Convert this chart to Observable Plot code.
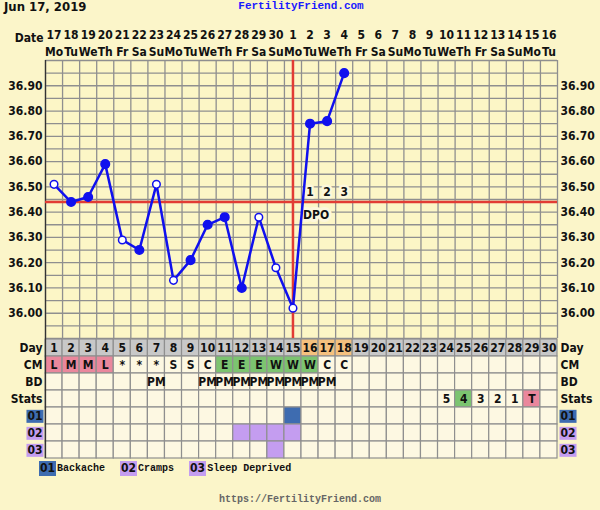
<!DOCTYPE html>
<html>
<head>
<meta charset="utf-8">
<script src="https://cdn.jsdelivr.net/npm/d3@7"></script>
<script src="https://cdn.jsdelivr.net/npm/@observablehq/plot@0.6"></script>
<style>
  html, body { margin: 0; padding: 0; background: #fbf5c9; }
  #chart { position: relative; width: 600px; height: 510px; overflow: hidden; background: #fbf5c9; }
  #chart svg { display: block; }
  .sans { font-family: "DejaVu Sans Condensed", "DejaVu Sans", sans-serif; font-stretch: condensed; font-weight: bold; }
  .mono { font-family: "Liberation Mono", "DejaVu Sans Mono", monospace; font-weight: bold; }
  #date { position: absolute; left: 4px; top: 0px; font-size: 13px; line-height: 14px; color: #111; }
  #site { position: absolute; left: 0; width: 602px; top: 0px; text-align: center; font-size: 11px; color: #1a1aff; }
  #legend { position: absolute; left: 39px; top: 461px; font-size: 10px; color: #111; display: flex; align-items: center; }
  #legend .box { font-family: "DejaVu Sans Condensed", "DejaVu Sans", sans-serif; font-stretch: condensed; font-size: 12px; padding: 0 1px; line-height: 15px; margin-right: 1px; }
  #legend .item { display: flex; align-items: center; }
  #footer { position: absolute; left: 0; width: 600px; top: 494px; text-align: center; font-size: 10px; color: #666; }
</style>
</head>
<body>
<div id="chart">
  <div id="date" class="sans">Jun 17, 2019</div>
  <div id="site" class="mono">FertilityFriend.com</div>
  <div id="legend" class="mono"></div>
  <div id="footer" class="mono">https://FertilityFriend.com</div>
</div>
<script>
// ---- Cycle data ----
const cycleDays = d3.range(1, 31);
const dateLabels = ["17","18","19","20","21","22","23","24","25","26","27","28","29","30",
                    "1","2","3","4","5","6","7","8","9","10","11","12","13","14","15","16"];
const weekdayLabels = ["Mo","Tu","We","Th","Fr","Sa","Su","Mo","Tu","We","Th","Fr","Sa","Su",
                       "Mo","Tu","We","Th","Fr","Sa","Su","Mo","Tu","We","Th","Fr","Sa","Su","Mo","Tu"];

// Basal body temperatures (°C), one per recorded cycle day
const tempDays = d3.range(1, 19);
const temps = [36.51, 36.44, 36.46, 36.59, 36.29, 36.25, 36.51, 36.13, 36.21,
               36.35, 36.38, 36.10, 36.38, 36.18, 36.02, 36.75, 36.76, 36.95];
// Readings drawn as hollow circles
const openDays = [1, 5, 7, 8, 13, 14, 15];

const coverline = 36.44;
const ovulationDay = 15;
const dpoDays = [16, 17, 18];
const dpoLabels = ["1", "2", "3"];
const tempTicks = [36.0, 36.1, 36.2, 36.3, 36.4, 36.5, 36.6, 36.7, 36.8, 36.9];

// Table rows
const rowNames = ["Day", "CM", "BD", "Stats", "01", "02", "03"];
const highlightDays = [16, 17, 18];
const cmValues = ["L","M","M","L","*","*","*","S","S","C","E","E","E","W","W","W","C","C"];
const bdDays = [7, 10, 11, 12, 13, 14, 15, 16, 17];
const statsDays = [24, 25, 26, 27, 28, 29];
const statsLabels = ["5", "4", "3", "2", "1", "T"];
const backacheDays = [15];
const crampsDays = [12, 13, 14, 15];
const sleepDays = [14];

// ---- Palette ----
const gridColor = "#8f8f8f";
const red = "#e23c34";
const blue = "#1010ee";
const pink = "#ea879c";
const green = "#7cc470";
const orange = "#f5c17e";
const gray = "#c8c8c8";
const cellBg = "#fdf8e2";
const symptomBlue = "#3e6cb0";
const symptomPurple = "#c49df0";

const fontStyle = {
  background: "transparent",
  fontFamily: "'DejaVu Sans Condensed', 'DejaVu Sans', sans-serif",
  fontStretch: "condensed",
  fontWeight: "bold",
  fontSize: "12px",
  color: "#111",
  overflow: "visible"
};

const temperatureData = tempDays.map((day, i) => ({day, temp: temps[i], open: openDays.includes(day)}));
const colEdges = d3.range(0, 31).map(i => i + 0.5);
const gridTemps = d3.range(0, 23).map(i => 35.9 + i * 0.05);

// ---- Temperature chart ----
const tempPlot = Plot.plot({
  width: 600,
  height: 338,
  marginTop: 60,
  marginBottom: 0,
  marginLeft: 45,
  marginRight: 43,
  style: fontStyle,
  x: {domain: [0.5, 30.5], axis: null},
  y: {domain: [35.9, 37.0], axis: "both", ticks: tempTicks, tickFormat: ".2f",
      tickSize: 0, tickPadding: 3, label: null},
  marks: [
    Plot.frame({fill: "#fcf6c6", stroke: null}),
    Plot.ruleX(colEdges, {stroke: gridColor, strokeWidth: 1.3}),
    Plot.ruleY(gridTemps, {stroke: gridColor, strokeWidth: 1.3}),
    Plot.ruleX([0.5], {stroke: "#333", strokeWidth: 1.3}),
    Plot.ruleY([coverline], {stroke: red, strokeWidth: 2.5}),
    Plot.ruleX([ovulationDay], {stroke: red, strokeWidth: 2.5}),
    // days past ovulation
    Plot.text(dpoDays, {x: d => d, y: 36.48, text: (d, i) => dpoLabels[i],
      stroke: "#fcf7dc", strokeWidth: 5, fill: "#111"}),
    Plot.text(["DPO"], {x: dpoDays[0], y: 36.39, textAnchor: "start", dx: -7,
      stroke: "#fcf7dc", strokeWidth: 6, fill: "#111"}),
    // temperature curve
    Plot.line(temperatureData, {x: "day", y: "temp", stroke: blue, strokeWidth: 2.5}),
    Plot.dot(temperatureData.filter(d => !d.open), {x: "day", y: "temp", r: 4.3, fill: blue, stroke: blue}),
    Plot.dot(temperatureData.filter(d => d.open), {x: "day", y: "temp", r: 3.8, fill: "white", stroke: blue, strokeWidth: 1.5}),
    // date header
    Plot.text(cycleDays, {x: d => d, text: d => dateLabels[d - 1], frameAnchor: "top", dy: -30}),
    Plot.text(cycleDays, {x: d => d, text: d => weekdayLabels[d - 1], frameAnchor: "top", dy: -13}),
    Plot.text(["Date"], {frameAnchor: "top-left", textAnchor: "end", dx: -2, dy: -27})
  ]
});

// ---- Observation table ----
const cells = [];
for (const row of rowNames) {
  for (const day of cycleDays) {
    let fill = cellBg;
    if (row === "Day") fill = highlightDays.includes(day) ? orange : gray;
    if (row === "CM") {
      const v = cmValues[day - 1];
      if (v === "L" || v === "M") fill = pink;
      if (v === "E" || v === "W") fill = green;
    }
    if (row === "Stats") {
      const v = statsLabels[statsDays.indexOf(day)];
      if (v === "4") fill = green;
      if (v === "T") fill = pink;
    }
    if (row === "01" && backacheDays.includes(day)) fill = symptomBlue;
    if (row === "02" && crampsDays.includes(day)) fill = symptomPurple;
    if (row === "03" && sleepDays.includes(day)) fill = symptomPurple;
    cells.push({row, day, fill});
  }
}

const tableTexts = [
  ...cycleDays.map(day => ({row: "Day", day, label: String(day)})),
  ...cmValues.map((v, i) => ({row: "CM", day: i + 1, label: v})),
  ...bdDays.map(day => ({row: "BD", day, label: "PM"})),
  ...statsDays.map((day, i) => ({row: "Stats", day, label: statsLabels[i]}))
];

const tablePlot = Plot.plot({
  width: 600,
  height: 120,
  marginTop: 0,
  marginBottom: 0,
  marginLeft: 45,
  marginRight: 43,
  style: fontStyle,
  x: {domain: [0.5, 30.5], axis: null},
  y: {domain: rowNames, padding: 0, axis: "both", tickSize: 0, tickPadding: 3, label: null},
  color: {type: "identity"},
  marks: [
    Plot.barX(cells, {x1: d => d.day - 0.5, x2: d => d.day + 0.5, y: "row",
      fill: "fill", stroke: gridColor, strokeWidth: 1.2}),
    Plot.ruleX([0.5], {stroke: "#333", strokeWidth: 1.3}),
    Plot.text(tableTexts, {x: "day", y: "row", text: "label", fill: "#111"})
  ]
});

const chart = document.getElementById("chart");
const legendEl = document.getElementById("legend");
chart.insertBefore(tempPlot, legendEl);
chart.insertBefore(tablePlot, legendEl);

// Coloured boxes behind the symptom row codes
const symptomColors = {"01": symptomBlue, "02": symptomPurple, "03": symptomPurple};
d3.select(tablePlot).selectAll("text")
  .filter(function() { return symptomColors[this.textContent] !== undefined; })
  .each(function() {
    const b = this.getBBox();
    const rect = document.createElementNS("http://www.w3.org/2000/svg", "rect");
    rect.setAttribute("x", b.x - 1);
    rect.setAttribute("y", b.y + 1);
    rect.setAttribute("width", b.width + 2);
    rect.setAttribute("height", b.height - 1);
    rect.setAttribute("fill", symptomColors[this.textContent]);
    const t = this.getAttribute("transform");
    if (t) rect.setAttribute("transform", t);
    this.parentNode.insertBefore(rect, this);
  });

// Legend for symptom codes
const legendItems = [
  {code: "01", name: "Backache", color: symptomBlue},
  {code: "02", name: "Cramps", color: symptomPurple},
  {code: "03", name: "Sleep Deprived", color: symptomPurple}
];
const gaps = [0, 15, 15];
legendItems.forEach((item, i) => {
  const el = document.createElement("div");
  el.className = "item";
  el.style.marginLeft = gaps[i] + "px";
  el.innerHTML = `<span class="box" style="background:${item.color}">${item.code}</span><span>${item.name}</span>`;
  legendEl.appendChild(el);
});
</script>
</body>
</html>
